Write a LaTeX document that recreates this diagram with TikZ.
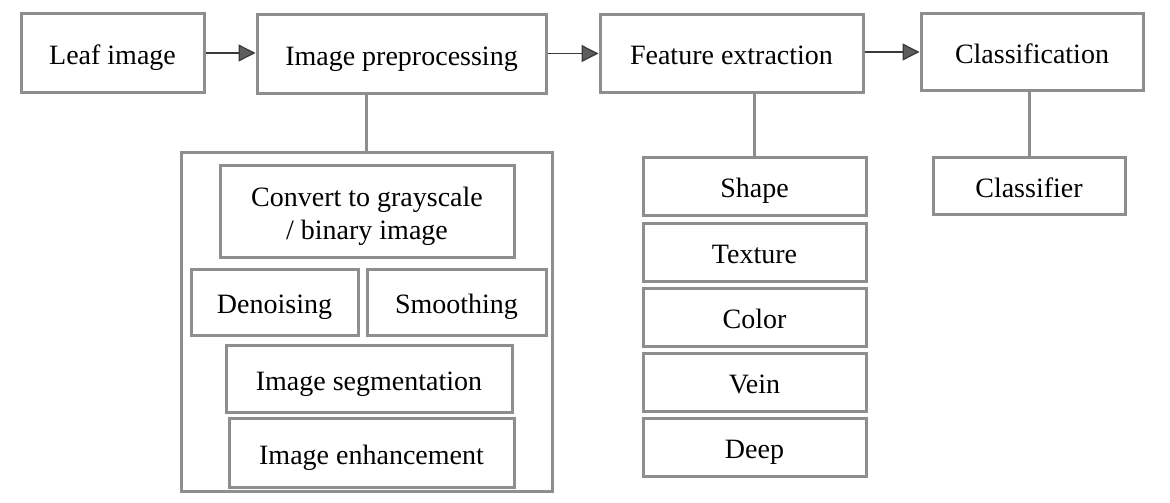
\documentclass[tikz,border=0pt]{standalone}
\usepackage{fontspec}
\setmainfont{Liberation Serif}
\usetikzlibrary{arrows.meta}
\definecolor{boxgray}{HTML}{8E8E8E}
\definecolor{arrgray}{HTML}{3A3A3A}
\definecolor{tipgray}{HTML}{5E5E5E}
\begin{document}
\begin{tikzpicture}[x=1pt,y=-1pt,
  box/.style={draw=boxgray, line width=3pt, fill=white, inner sep=0pt, align=center,
    font=\fontsize{28}{32.5}\selectfont},
  one/.style={box, text height=26.5pt, text depth=3.5pt},
  flow/.style={draw=arrgray, line width=1.3pt, -{Triangle[length=17pt,width=17pt,fill=tipgray]}},
  link/.style={draw=boxgray, line width=3pt}]
\useasboundingbox (0,0) rectangle (1170,503);
% top row
\node[one, minimum width=183pt, minimum height=78pt] (leaf) at (112.5,53) {Leaf image};
\node[one, minimum width=289pt, minimum height=78pt] (pre) at (401.5,54) {Image preprocessing};
\node[one, minimum width=263pt, minimum height=77pt] (feat) at (731.5,53.5) {Feature extraction};
\node[one, minimum width=222pt, minimum height=76pt] (cls) at (1032,52) {Classification};
% preprocessing group
\node[box, minimum width=371pt, minimum height=339pt] (big) at (366.5,321.5) {};
\node[box, minimum width=294pt, minimum height=92pt] (conv) at (367,211) {\rule{0pt}{30pt}Convert to grayscale\\/ binary image};
\node[one, minimum width=167pt, minimum height=66pt] (deno) at (274.5,302) {Denoising};
\node[one, minimum width=179pt, minimum height=66pt] (smoo) at (456.5,302) {Smoothing};
\node[one, minimum width=286pt, minimum height=67pt] (seg) at (369,378.5) {Image segmentation};
\node[one, minimum width=285pt, minimum height=69pt] (enh) at (371.5,452.5) {Image enhancement};
% features
\node[one, minimum width=223pt, minimum height=58pt] (shape) at (754.5,186) {Shape};
\node[one, minimum width=223pt, minimum height=58pt] (texture) at (754.5,252) {Texture};
\node[one, minimum width=223pt, minimum height=58pt] (color) at (754.5,317) {Color};
\node[one, minimum width=223pt, minimum height=58pt] (vein) at (754.5,382) {Vein};
\node[one, minimum width=223pt, minimum height=58pt] (deep) at (754.5,447) {Deep};
% classifier
\node[one, minimum width=192pt, minimum height=57pt] (clf) at (1029,185.5) {Classifier};
% arrows
\draw[flow] (leaf.east) -- (leaf.east -| pre.west);
\draw[flow] (pre.east |- feat.west) -- (feat.west);
\draw[flow] (feat.east |- cls.west) -- (cls.west);
% links
\draw[link] (big.north) -- (big.north |- pre.south);
\draw[link] (shape.north) -- (shape.north |- feat.south);
\draw[link] (clf.north) -- (clf.north |- cls.south);
\end{tikzpicture}
\end{document}
